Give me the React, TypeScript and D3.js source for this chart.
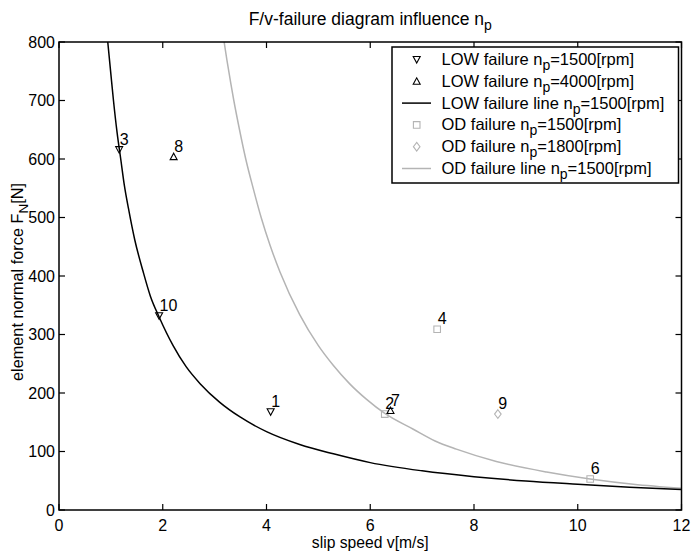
import React from "react";
import * as d3 from "d3";

// ---- data ----
const lowLineV = [0.94, 1.0, 1.05, 1.12, 1.19, 1.26, 1.34, 1.46, 1.62, 1.76, 1.93, 2.2, 2.45, 2.72, 3.1, 3.49, 4.0, 4.64, 5.29, 6.0, 7.0, 8.0, 9.0, 10.0, 11.0, 12.0];
const lowLineF = [800, 745, 700, 645, 600, 555, 515, 462, 408, 366, 330, 281, 245, 216, 184, 159, 134, 112, 96, 81, 67, 57, 49.5, 44, 39, 35];

const odLineV = [3.1, 3.25, 3.37, 3.48, 3.6, 3.74, 3.9, 4.07, 4.26, 4.64, 5.0, 5.29, 5.6, 5.93, 6.28, 6.83, 7.25, 7.66, 8.43, 9.4, 10.24, 11.07, 12.0];
const odLineF = [850, 762, 700, 650, 600, 551, 499, 452, 407, 334, 281, 247, 216, 189, 165, 138, 118, 104, 83, 65, 53, 44, 37];

const low1500V = [1.16, 1.93, 4.08];
const low1500F = [616, 332, 168];
const low1500Labels = ["3", "10", "1"];

const low4000V = [2.21, 6.39];
const low4000F = [604, 170];
const low4000Labels = ["8", "7"];

const od1500V = [6.28, 7.29, 10.24];
const od1500F = [164, 309, 53];
const od1500Labels = ["2", "4", "6"];

const od1800V = [8.46];
const od1800F = [164];
const od1800Labels = ["9"];

const xTicks = [0, 2, 4, 6, 8, 10, 12];
const yTicks = [0, 100, 200, 300, 400, 500, 600, 700, 800];

const GRAY = "#b4b4b4";
const FONT = "'Liberation Sans', Arial, Helvetica, sans-serif";

const W = 691, H = 553;
const left = 59, right = 681.5, top = 42, bottom = 510;

type Shape = "down" | "up" | "square" | "diamond";

function markerPath(shape: Shape, x: number, y: number): string {
  switch (shape) {
    case "down":
      return `M${x - 3.5},${y - 3}L${x + 3.5},${y - 3}L${x},${y + 3.5}Z`;
    case "up":
      return `M${x - 3.5},${y + 3}L${x + 3.5},${y + 3}L${x},${y - 3.5}Z`;
    case "square":
      return `M${x - 3.3},${y - 3.3}h6.6v6.6h-6.6Z`;
    case "diamond":
      return `M${x},${y - 4.3}L${x + 3.3},${y}L${x},${y + 4.3}L${x - 3.3},${y}Z`;
  }
}

export default function App() {
  const x = d3.scaleLinear().domain([0, 12]).range([left, right]);
  const y = d3.scaleLinear().domain([0, 800]).range([bottom, top]);

  const line = d3
    .line<[number, number]>()
    .x((d) => x(d[0]))
    .y((d) => y(d[1]))
    .curve(d3.curveMonotoneX);

  const lowPts = lowLineV.map((v, i) => [v, lowLineF[i]] as [number, number]);
  const odPts = odLineV.map((v, i) => [v, odLineF[i]] as [number, number]);

  const series: { v: number[]; f: number[]; labels: string[]; shape: Shape; color: string }[] = [
    { v: low1500V, f: low1500F, labels: low1500Labels, shape: "down", color: "#000" },
    { v: od1500V, f: od1500F, labels: od1500Labels, shape: "square", color: GRAY },
    { v: od1800V, f: od1800F, labels: od1800Labels, shape: "diamond", color: GRAY },
    { v: low4000V, f: low4000F, labels: low4000Labels, shape: "up", color: "#000" },
  ];

  const legendItems: { kind: Shape | "line"; color: string; pre: string; post: string }[] = [
    { kind: "down", color: "#000", pre: "LOW failure n", post: "=1500[rpm]" },
    { kind: "up", color: "#000", pre: "LOW failure n", post: "=4000[rpm]" },
    { kind: "line", color: "#000", pre: "LOW failure line n", post: "=1500[rpm]" },
    { kind: "square", color: GRAY, pre: "OD failure n", post: "=1500[rpm]" },
    { kind: "diamond", color: GRAY, pre: "OD failure n", post: "=1800[rpm]" },
    { kind: "line", color: GRAY, pre: "OD failure line n", post: "=1500[rpm]" },
  ];

  const tickLen = 6;

  return (
    <svg
      width={W}
      height={H}
      style={{ position: "absolute", left: 0, top: 0, background: "#fff" }}
      fontFamily={FONT}
    >
      <rect x={0} y={0} width={W} height={H} fill="#fff" />
      <defs>
        <clipPath id="plotClip">
          <rect x={left} y={top} width={right - left} height={bottom - top} />
        </clipPath>
      </defs>

      {/* title */}
      <text x={(left + right) / 2} y={24.5} fontSize={17.5} textAnchor="middle" fill="#000">
        F/v-failure diagram influence n
        <tspan fontSize={14} dy={5}>p</tspan>
      </text>

      {/* lines */}
      <g clipPath="url(#plotClip)">
        <path d={line(odPts) || ""} fill="none" stroke={GRAY} strokeWidth={1.5} />
        <path d={line(lowPts) || ""} fill="none" stroke="#000" strokeWidth={1.5} />
      </g>

      {/* markers */}
      {series.map((s, si) =>
        s.v.map((v, i) => (
          <path
            key={`m${si}-${i}`}
            d={markerPath(s.shape, x(v), y(s.f[i]))}
            fill="none"
            stroke={s.color}
            strokeWidth={1.1}
          />
        ))
      )}
      {/* point labels */}
      {series.map((s, si) =>
        s.v.map((v, i) => (
          <text
            key={`l${si}-${i}`}
            x={x(v) + 0.5}
            y={y(s.f[i]) - 5}
            fontSize={16}
            fill="#000"
          >
            {s.labels[i]}
          </text>
        ))
      )}

      {/* axes box */}
      <rect x={left} y={top} width={right - left} height={bottom - top} fill="none" stroke="#000" strokeWidth={1.5} />

      {/* x ticks */}
      {xTicks.map((t) => (
        <g key={`xt${t}`}>
          <line x1={x(t)} x2={x(t)} y1={bottom} y2={bottom - tickLen} stroke="#000" strokeWidth={1.2} />
          <line x1={x(t)} x2={x(t)} y1={top} y2={top + tickLen} stroke="#000" strokeWidth={1.2} />
          <text x={x(t)} y={531} fontSize={16} textAnchor="middle" fill="#000">
            {t}
          </text>
        </g>
      ))}
      {/* y ticks */}
      {yTicks.map((t) => (
        <g key={`yt${t}`}>
          <line x1={left} x2={left + tickLen} y1={y(t)} y2={y(t)} stroke="#000" strokeWidth={1.2} />
          <line x1={right} x2={right - tickLen} y1={y(t)} y2={y(t)} stroke="#000" strokeWidth={1.2} />
          <text x={55} y={y(t) + 5.8} fontSize={16} textAnchor="end" fill="#000">
            {t}
          </text>
        </g>
      ))}

      {/* axis labels */}
      <text x={(left + right) / 2} y={548} fontSize={15.7} textAnchor="middle" fill="#000">
        slip speed v[m/s]
      </text>
      <text
        transform={`translate(23,${282}) rotate(-90)`}
        fontSize={16.3}
        textAnchor="middle"
        fill="#000"
      >
        element normal force F<tspan fontSize={13.5} dy={5}>N</tspan>
        <tspan dy={-5}>[N]</tspan>
      </text>

      {/* legend */}
      <rect x={392} y={47} width={286.5} height={136} fill="#fff" stroke="#000" strokeWidth={1.5} />
      {legendItems.map((it, i) => {
        const by = 65 + i * 21.8;
        const my = by - 5.5;
        return (
          <g key={`lg${i}`}>
            {it.kind === "line" ? (
              <line x1={402} x2={431} y1={my} y2={my} stroke={it.color} strokeWidth={1.5} />
            ) : (
              <path d={markerPath(it.kind, 416.7, my)} fill="none" stroke={it.color} strokeWidth={1.1} />
            )}
            <text x={441.5} y={by} fontSize={16.5} fill="#000">
              {it.pre}
              <tspan fontSize={14} dy={5}>p</tspan>
              <tspan dy={-5}>{it.post}</tspan>
            </text>
          </g>
        );
      })}
    </svg>
  );
}
